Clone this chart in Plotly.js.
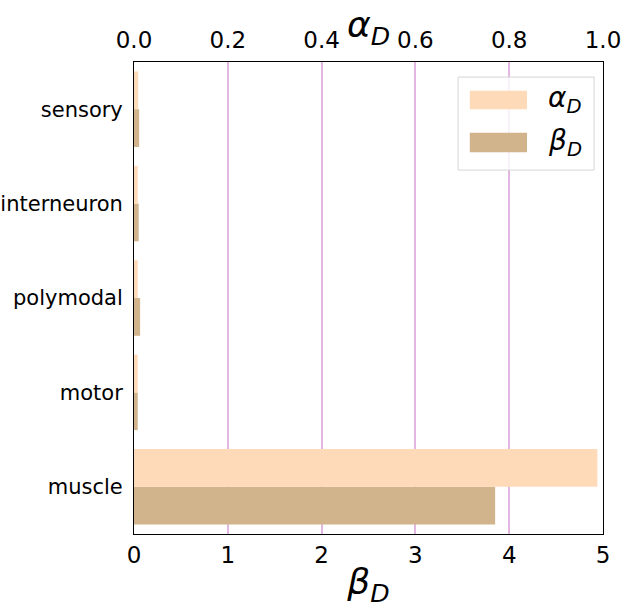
<!DOCTYPE html>
<html><head><meta charset="utf-8">
<script src="https://cdn.plot.ly/plotly-3.0.1.min.js"></script>
<style>html,body{margin:0;padding:0;background:#fff}#chart{width:629px;height:613px}</style>
</head><body><div id="chart"></div>
<script>
const categories = ['muscle', 'motor', 'polymodal', 'interneuron', 'sensory'];
const alphaD = [0.988, 0.008, 0.008, 0.008, 0.009];
const betaD = [3.85, 0.04, 0.065, 0.05, 0.055];
const seriesNames = ['<i>α</i><sub><i>D</i></sub>', '<i>β</i><sub><i>D</i></sub>'];
const seriesColors = ['#FFDAB9', '#D2B48C'];
const betaTicks = [0, 1, 2, 3, 4, 5];
const alphaTicks = [0.0, 0.2, 0.4, 0.6, 0.8, 1.0];

const catFont = {family: 'DejaVu Sans', size: 21, color: '#000'};
const tickFont = {family: 'DejaVu Sans', size: 23, color: '#000'};
const titleFont = {family: 'DejaVu Sans', size: 36, color: '#000'};
const traces = [
  {type: 'bar', orientation: 'h', name: seriesNames[0], y: categories, x: alphaD, showlegend: false,
   xaxis: 'x2', yaxis: 'y', offset: 0, width: 0.4, marker: {color: seriesColors[0], line: {width: 0}}},
  {type: 'bar', orientation: 'h', name: seriesNames[1], y: categories, x: betaD, showlegend: false,
   xaxis: 'x', yaxis: 'y', offset: -0.4, width: 0.4, marker: {color: seriesColors[1], line: {width: 0}}}
];

// hand-made legend (large swatches like the reference)
const legendBox = {x0: 0.691, x1: 0.981, y0: 0.771, y1: 0.968};
const swatchX = [0.716, 0.838];
const swatchY = [[0.900, 0.939], [0.809, 0.850]];
const shapes = [
  {type: 'rect', xref: 'paper', yref: 'paper', layer: 'above', x0: legendBox.x0, x1: legendBox.x1, y0: legendBox.y0, y1: legendBox.y1,
   fillcolor: 'rgba(255,255,255,0.8)', line: {color: '#d6d6d6', width: 1}}
];
const annotations = [
  // top-axis title (alpha_D)
  {xref: 'paper', yref: 'paper', x: 0.5, y: 1.127, xanchor: 'center', yanchor: 'top', showarrow: false,
   text: seriesNames[0], font: titleFont}
];
seriesNames.forEach((nm, i) => {
  shapes.push({type: 'rect', xref: 'paper', yref: 'paper', layer: 'above', x0: swatchX[0], x1: swatchX[1],
    y0: swatchY[i][0], y1: swatchY[i][1], fillcolor: seriesColors[i], line: {width: 0}});
  annotations.push({xref: 'paper', yref: 'paper', x: 0.878, y: (swatchY[i][0] + swatchY[i][1]) / 2,
    xanchor: 'left', yanchor: 'middle', showarrow: false, text: nm,
    font: {family: 'DejaVu Sans', size: 28, color: '#000'}});
});

const layout = {
  width: 629, height: 613,
  margin: {l: 134, r: 26, t: 62, b: 79},
  paper_bgcolor: '#fff', plot_bgcolor: '#fff',
  font: catFont,
  showlegend: false,
  shapes: shapes,
  annotations: annotations,
  xaxis: {range: [0, 5], tickvals: betaTicks, ticktext: betaTicks.map(v => String(v)),
    showgrid: true, gridcolor: '#e2b8e2', gridwidth: 2, zeroline: false,
    showline: true, linecolor: '#000', linewidth: 1, mirror: true, ticks: '',
    tickfont: tickFont, title: {text: '<i>β</i><sub><i>D</i></sub>', font: titleFont, standoff: 2}},
  xaxis2: {range: [0, 1], overlaying: 'x', side: 'top', tickvals: alphaTicks,
    ticktext: alphaTicks.map(v => v.toFixed(1)), showgrid: false, zeroline: false, ticks: '',
    ticklabelstandoff: 8, automargin: false, tickfont: tickFont},
  yaxis: {type: 'category', categoryorder: 'array', categoryarray: categories, range: [-0.5, 4.5],
    showgrid: false, zeroline: false, showline: true, linecolor: '#000', linewidth: 1, mirror: true,
    ticks: '', ticklabelstandoff: 6, tickfont: catFont}
};
Plotly.newPlot('chart', traces, layout, {displayModeBar: false, staticPlot: true});
</script></body></html>
